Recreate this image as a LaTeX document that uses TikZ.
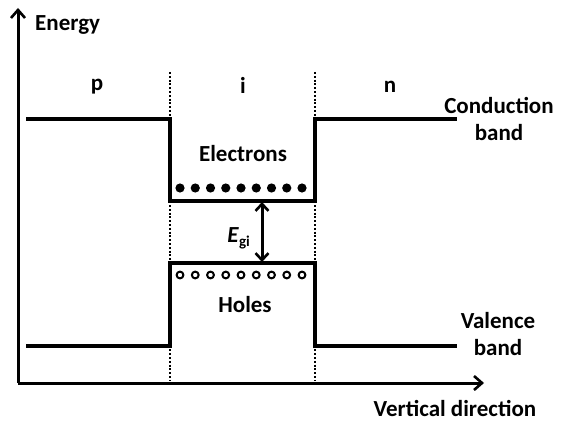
\documentclass[tikz,border=0pt]{standalone}
\usepackage{fontspec}
\setmainfont{Carlito}
\usetikzlibrary{arrows.meta}
\begin{document}
\begin{tikzpicture}[x=1pt,y=-1pt,
  lbl/.style={font=\bfseries\fontsize{23}{27}\selectfont, inner sep=0pt, align=center},
  band/.style={line width=3.2pt, line join=miter},
  axis/.style={line width=3pt, -{Straight Barb[length=8pt,width=14pt,line width=2.6pt]}},
  gaparrow/.style={line width=3pt, {Straight Barb[length=7pt,width=13pt,line width=2.6pt]}-{Straight Barb[length=7pt,width=13pt,line width=2.6pt]}},
  sep/.style={line width=2.8pt, dash pattern=on 2pt off 1.8pt},
  elec/.style={fill=black, draw=none},
  hole/.style={draw=black, fill=white, line width=2pt}]
\useasboundingbox (0,0) rectangle (561,422);
% axes
\coordinate (O) at (18,383);
\coordinate (ytop) at (18,8);
\coordinate (xend) at (484,383);
\draw[axis] (O) -- (ytop);
\draw[axis] (O) -- (xend);
\node[lbl, anchor=west] (energy) at (35,25) {Energy};
\node[lbl] (vdir) at (455,408) {Vertical direction};
% separators
\coordinate (s1t) at (170,72); \coordinate (s1b) at (170,381);
\coordinate (s2t) at (315,72); \coordinate (s2b) at (315,381);
\draw[sep] (s1t) -- (s1b);
\draw[sep] (s2t) -- (s2b);
% region labels
\node[lbl] (p) at (97,87) {p};
\node[lbl] (i) at (243,85) {i};
\node[lbl] (n) at (390,87) {n};
% conduction band
\draw[band] (26,119) -- (170,119) -- (170,201) -- (315,201) -- (315,119) -- (457,119);
% valence band
\draw[band] (26,346) -- (170,346) -- (170,263) -- (315,263) -- (315,346) -- (457,346);
\node[lbl] (cb) at (499,119) {Conduction\\band};
\node[lbl] (vb) at (498,334) {Valence\\band};
\node[lbl] (el) at (243,154) {Electrons};
\node[lbl] (ho) at (245,305) {Holes};
% carriers
\foreach \k in {0,...,8} {
  \fill[elec] (180+15.25*\k,188) circle (4.6pt);
  \draw[hole] (180+15.25*\k,275) circle (3.4pt);
}
% gap arrow
\coordinate (gt) at (262,202);
\coordinate (gb) at (262,262);
\draw[gaparrow] (gt) -- (gb);
\node[lbl, anchor=east] (eg) at (250,238) {\textit{E}\raisebox{-0.35ex}{\fontsize{15}{17}\selectfont gi}};
\end{tikzpicture}
\end{document}
